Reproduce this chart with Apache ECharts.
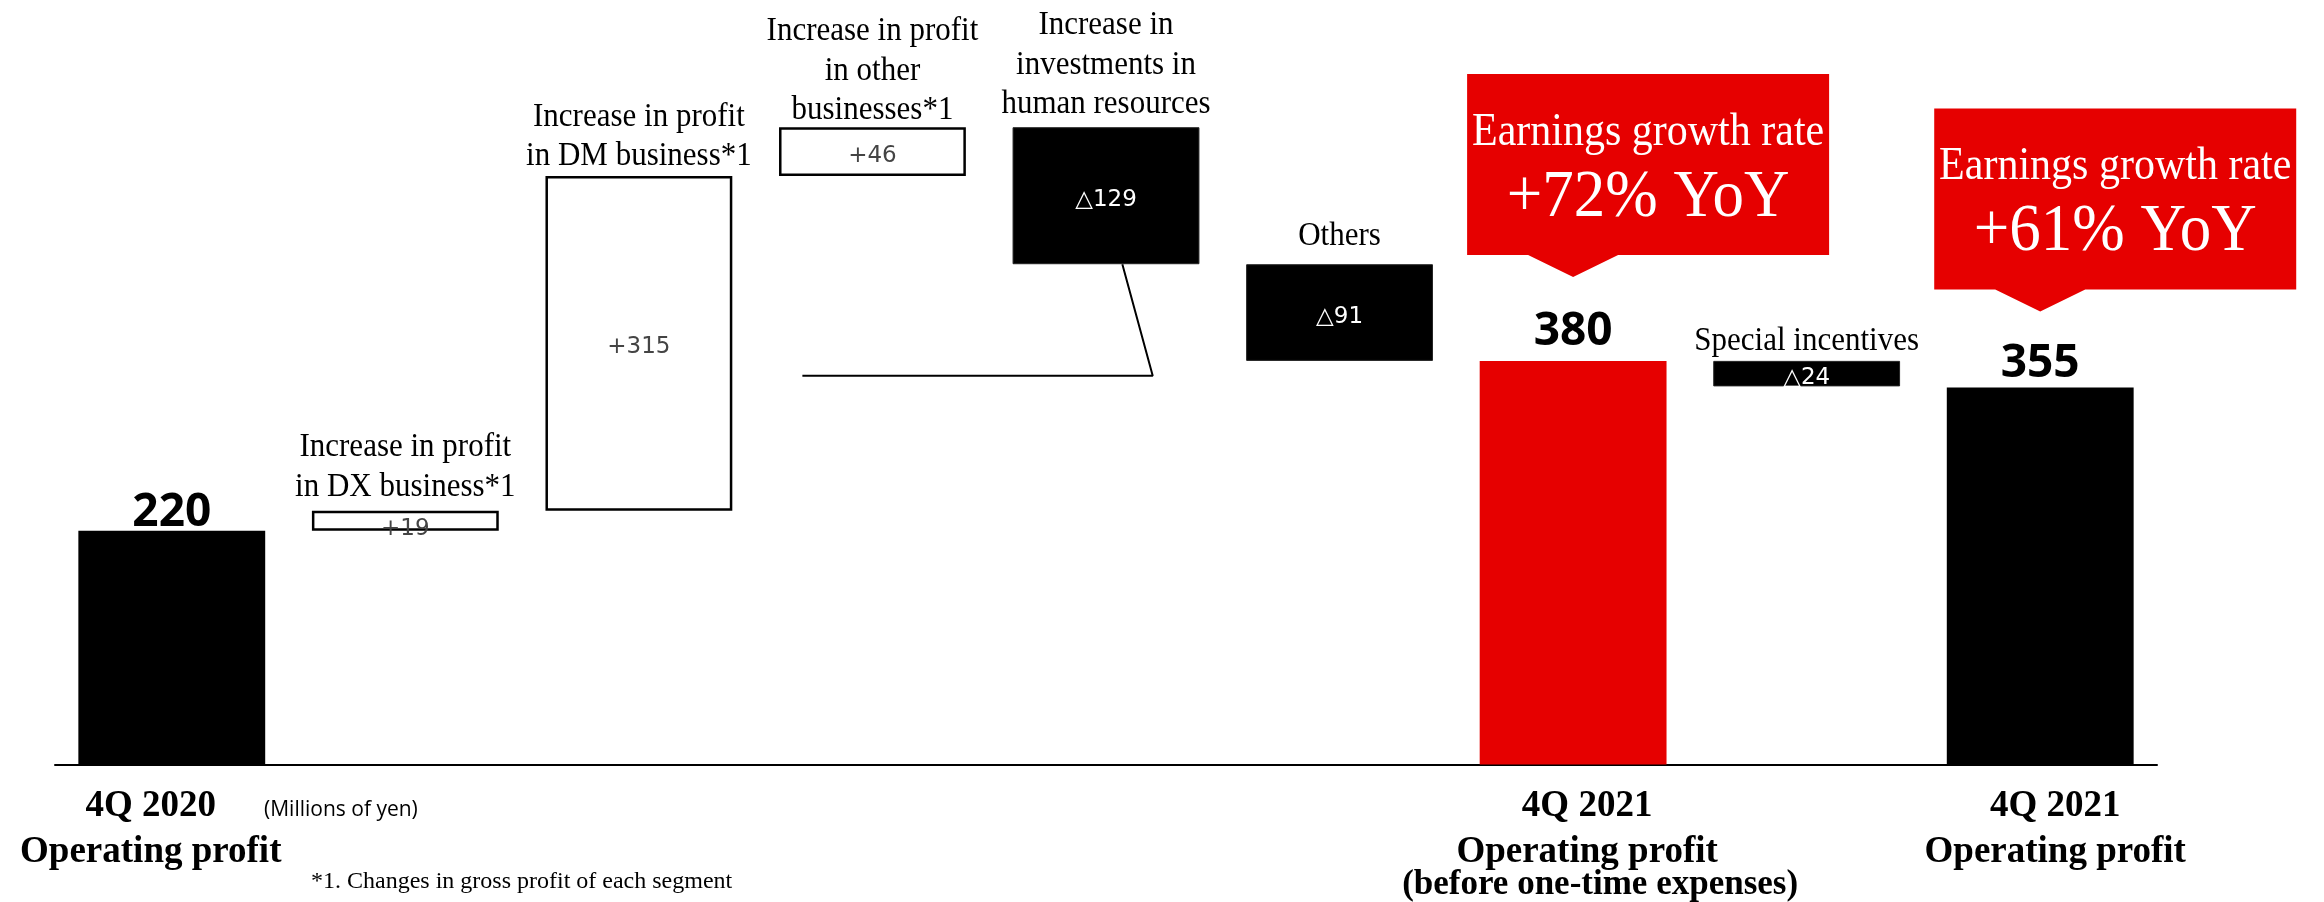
<!DOCTYPE html>
<html>
<head>
<meta charset="utf-8">
<script src="https://cdn.jsdelivr.net/npm/echarts@6/dist/echarts.min.js"></script>
<style>
  html, body { margin: 0; padding: 0; background: #fff; }
  #chart { width: 2324px; height: 902px; }
</style>
</head>
<body>
<div id="chart"></div>
<script>
// Operating profit bridge from 4Q 2020 to 4Q 2021 (millions of yen)
const steps = ['start', 'dx', 'dm', 'other', 'hr', 'others', 'pre', 'special', 'total'];
const kinds = ['total', 'delta', 'delta', 'delta', 'delta', 'delta', 'total', 'delta', 'total'];
const values = [220, 19, 315, 46, -129, -91, 380, -24, 355];
const captions = [
  '',
  'Increase in profit\nin DX business*1',
  'Increase in profit\nin DM business*1',
  'Increase in profit\nin other\nbusinesses*1',
  'Increase in\ninvestments in\nhuman resources',
  'Others',
  '',
  'Special incentives',
  ''
];
const axisTitles = [
  ['4Q 2020', 'Operating profit'],
  [], [], [], [], [],
  ['4Q 2021', 'Operating profit', '(before one-time expenses)'],
  [],
  ['4Q 2021', 'Operating profit']
];
const growthSteps = [6, 8];
const growthRates = ['+72% YoY', '+61% YoY'];
// leader line running from the DM column towards the human-resources box
const connector = [[2.7, 366], [4.2, 366], [4.07, 471]];

// presentation tweaks (pixels)
const RED = '#e60000';
const SERIF = '"Liberation Serif", "Times New Roman", serif';
const SANS = '"Open Sans", "Noto Sans", sans-serif';
const totalLift = { 0: -1, 6: 10, 8: 5 };
const captionShift = [0, 0, 4, 7, 1, -4, 0, 4, 0];
const titleShift = [-21, 0, 0, 0, 0, 0, 14, 0, 15];
const calloutLift = [84, 76];

// floating base + visible body for each column
let running = 0;
const base = [], body = [], tops = [];
values.forEach((v, i) => {
  if (kinds[i] === 'total') { base.push(0); body.push(v); running = v; }
  else if (v >= 0) { base.push(running); body.push(v); running += v; }
  else { running += v; base.push(running); body.push(-v); }
  tops.push(base[i] + body[i]);
});

const bodyData = values.map((v, i) => {
  if (kinds[i] === 'total') {
    return {
      value: body[i],
      itemStyle: { color: i === 6 ? RED : '#000', borderWidth: 0 },
      label: {
        show: true, position: 'top', distance: totalLift[i],
        formatter: String(v),
        fontFamily: SANS, fontWeight: 700, fontSize: 46, lineHeight: 38, color: '#000'
      }
    };
  }
  const up = v >= 0;
  return {
    value: body[i],
    itemStyle: up
      ? { color: '#fff', borderColor: '#000', borderWidth: 2.5 }
      : { color: '#000', borderColor: '#222', borderWidth: 1 },
    label: {
      show: true, position: 'inside',
      offset: i === 1 ? [0, 8] : [0, 4],
      formatter: up ? '+' + v : '\u25B3' + (-v),
      fontFamily: '"DejaVu Sans", sans-serif', fontSize: 23,
      color: up ? '#444' : '#fff'
    }
  };
});

// rich styles for the bottom category titles, one set per column
const rich = {};
axisTitles.forEach((t, i) => {
  const s = titleShift[i];
  const padFor = d => d >= 0 ? [0, 0, 0, 2 * d] : [0, -2 * d, 0, 0];
  const common = { fontFamily: SERIF, fontWeight: 'bold', color: '#000' };
  rich['a' + i] = Object.assign({ fontSize: 37, lineHeight: 46, padding: padFor(s) }, common);
  rich['b' + i] = Object.assign({ fontSize: 37, lineHeight: 46, padding: padFor(s) }, common);
  rich['c' + i] = Object.assign({ fontSize: 35, lineHeight: 18, padding: padFor(s + 13) }, common);
});

const captionData = steps.map((s, i) => [i, tops[i]]).filter(d => captions[d[0]]);
const calloutData = growthSteps.map((s, k) => [s, tops[s], k]);

const chart = echarts.init(document.getElementById('chart'), null, { renderer: 'canvas' });

chart.setOption({
  animation: false,
  backgroundColor: '#fff',
  grid: { left: 55, right: 167, top: 21, bottom: 125, containLabel: false },
  xAxis: [
    {
      type: 'category',
      data: steps,
      axisLine: { show: true, lineStyle: { color: '#000', width: 2 } },
      axisTick: { show: false },
      axisLabel: {
        interval: 0,
        margin: 19,
        formatter: (val, idx) => {
          const t = axisTitles[idx];
          if (!t.length) return '';
          const keys = ['a', 'b', 'c'];
          return t.map((line, k) => '{' + keys[k] + idx + '|' + line + '}').join('\n');
        },
        rich: rich
      }
    },
    { type: 'value', min: -0.5, max: 8.5, show: false }
  ],
  yAxis: { type: 'value', min: 0, max: 700, show: false },
  series: [
    {
      type: 'bar', stack: 'bridge', barWidth: '80%',
      itemStyle: { color: 'transparent' },
      silent: true,
      data: base
    },
    {
      type: 'bar', stack: 'bridge', barWidth: '80%',
      data: bodyData
    },
    {
      type: 'line', xAxisIndex: 1,
      data: connector,
      symbol: 'none',
      lineStyle: { color: '#000', width: 2 },
      silent: true, z: 1
    },
    {
      type: 'custom', clip: false,
      data: captionData,
      renderItem: (params, api) => {
        const i = api.value(0);
        const p = api.coord([i, api.value(1)]);
        return {
          type: 'text', x: p[0], y: p[1] - 4 + captionShift[i],
          scaleY: 1.1,
          style: {
            text: captions[i], fill: '#000',
            font: '31px ' + SERIF,
            align: 'center', verticalAlign: 'bottom', lineHeight: 36
          }
        };
      }
    },
    {
      type: 'custom', clip: false,
      data: calloutData,
      renderItem: (params, api) => {
        const p = api.coord([api.value(0), api.value(1)]);
        const k = api.value(2);
        const cx = p[0];
        const tip = p[1] - calloutLift[k];
        const bottom = tip - 22;
        const top = bottom - 181;
        const left = cx - 106, right = cx + 256;
        const mid = (left + right) / 2;
        return {
          type: 'group',
          children: [
            {
              type: 'polygon',
              shape: { points: [[left, top], [right, top], [right, bottom], [cx + 45, bottom], [cx, tip], [cx - 45, bottom], [left, bottom]] },
              style: { fill: RED }
            },
            {
              type: 'text', x: mid, y: top + 59, scaleY: 1.08,
              style: { text: 'Earnings growth rate', fill: '#fff', font: '42px ' + SERIF, align: 'center', verticalAlign: 'middle' }
            },
            {
              type: 'text', x: mid, y: top + 124, scaleY: 1.08,
              style: { text: growthRates[k], fill: '#fff', font: '63px ' + SERIF, align: 'center', verticalAlign: 'middle' }
            }
          ]
        };
      }
    }
  ],
  graphic: [
    {
      type: 'text', left: 264, top: 800,
      style: { text: '(Millions of yen)', fill: '#000', font: '21px ' + SANS }
    },
    {
      type: 'text', left: 311, top: 870,
      style: { text: '*1. Changes in gross profit of each segment', fill: '#000', font: '24px ' + SERIF }
    }
  ]
});
</script>
</body>
</html>
